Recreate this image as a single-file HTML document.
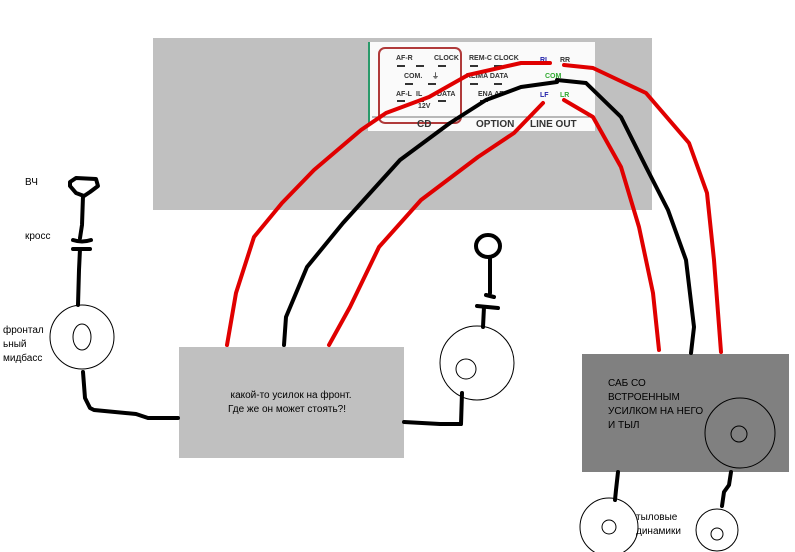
<!DOCTYPE html>
<html><head><meta charset="utf-8"><style>
html,body{margin:0;padding:0;background:#fff;}
svg{display:block;}
text{font-family:"Liberation Sans","DejaVu Sans",sans-serif;}
</style></head><body>
<svg width="795" height="552" viewBox="0 0 795 552" xmlns="http://www.w3.org/2000/svg">
<rect x="0" y="0" width="795" height="552" fill="#fff"/>
<rect x="153" y="38" width="499" height="172" fill="#c0c0c0"/>
<!-- head unit connector image -->
<rect x="368" y="42" width="227" height="89" fill="#fafafa"/>
<line x1="369" y1="42" x2="369" y2="125" stroke="#2a9a6a" stroke-width="2"/>
<rect x="379" y="48" width="82" height="75" rx="6" fill="none" stroke="#b03a3a" stroke-width="2"/>
<line x1="372" y1="117" x2="592" y2="117" stroke="#777" stroke-width="1"/>
<g font-size="7" font-weight="bold" fill="#333">
<text x="396" y="60">AF-R</text><text x="434" y="60">CLOCK</text>
<text x="404" y="78">COM.</text><text x="432" y="78">⏚</text>
<text x="396" y="96">AF-L</text><text x="416" y="96">IL</text><text x="437" y="96">DATA</text>
<text x="418" y="108">12V</text>
<text x="469" y="60">REM-C CLOCK</text>
<text x="466" y="78">KLIMA DATA</text>
<text x="478" y="96">ENA AF</text>
<text x="540" y="62" fill="#22a">RL</text><text x="560" y="62">RR</text>
<text x="545" y="78" fill="#3a3">COM</text>
<text x="540" y="97" fill="#22a">LF</text><text x="560" y="97" fill="#3a3">LR</text>
</g>
<g font-size="10" font-weight="bold" fill="#333">
<text x="417" y="127">CD</text><text x="476" y="127">OPTION</text><text x="530" y="127">LINE OUT</text>
</g>
<g stroke="#333" stroke-width="2">
<line x1="397" y1="66" x2="405" y2="66"/><line x1="416" y1="66" x2="424" y2="66"/><line x1="438" y1="66" x2="446" y2="66"/>
<line x1="405" y1="84" x2="413" y2="84"/><line x1="428" y1="84" x2="436" y2="84"/>
<line x1="397" y1="101" x2="405" y2="101"/><line x1="416" y1="101" x2="424" y2="101"/><line x1="438" y1="101" x2="446" y2="101"/>
<line x1="470" y1="66" x2="478" y2="66"/><line x1="494" y1="66" x2="502" y2="66"/>
<line x1="470" y1="84" x2="478" y2="84"/><line x1="494" y1="84" x2="502" y2="84"/>
<line x1="480" y1="101" x2="488" y2="101"/>
</g>
<!-- boxes -->
<rect x="179" y="347" width="225" height="111" fill="#c0c0c0"/>
<text x="291" y="398" font-size="10" text-anchor="middle" fill="#000">какой-то усилок на фронт.</text>
<text x="287" y="412" font-size="10" text-anchor="middle" fill="#000">Где же он может стоять?!</text>
<rect x="582" y="354" width="207" height="118" fill="#808080"/>
<g font-size="10" fill="#000">
<text x="608" y="386">САБ СО</text>
<text x="608" y="400">ВСТРОЕННЫМ</text>
<text x="608" y="414">УСИЛКОМ НА НЕГО</text>
<text x="608" y="428">И ТЫЛ</text>
</g>
<circle cx="740" cy="433" r="35" fill="none" stroke="#000" stroke-width="1"/>
<circle cx="739" cy="434" r="8" fill="none" stroke="#000" stroke-width="1"/>
<!-- wires -->
<g fill="none" stroke-linecap="round" stroke-linejoin="round" stroke-width="4">
<polyline stroke="#e00000" points="227,345 236,293 254,237 282,203 314,170 361,130 386,113 429,97 468,75 521,63 550,63"/>
<polyline stroke="#000" points="284,345 286,317 307,267 343,223 400,160 450,123 486,100 521,87 557,82"/>
<polyline stroke="#e00000" points="329,345 350,307 379,247 421,200 478,157 514,133 543,103"/>
<polyline stroke="#e00000" points="564,100 593,117 621,167 639,227 653,293 659,350"/>
<polyline stroke="#000" points="557,80 586,83 621,117 646,167 668,210 686,260 694,327 691,353"/>
<polyline stroke="#e00000" points="564,65 593,68 646,93 689,143 707,193 714,260 721,352"/>
<!-- left side -->
<path stroke="#000" d="M70,182 L76,178 L96,179 L98,186 L90,192 L84,196 L76,193 L70,186 Z"/>
<polyline stroke="#000" points="83,196 82,225 80,238"/>
<path stroke="#000" d="M73,240 Q82,243 91,240 M73,249 L90,249 M80,249 L79,270 L78,305"/>
<polyline stroke="#000" points="83,372 85,398 90,408 94,410 136,414 148,418 178,418"/>
<!-- middle -->
<ellipse stroke="#000" cx="488" cy="246" rx="12" ry="11"/>
<path stroke="#000" d="M490,257 L490,293 M486,295 L494,297 M477,306 L498,308 M484,307 L483,327"/>
<polyline stroke="#000" points="462,393 461,424 440,424 404,422"/>
<!-- rear -->
<polyline stroke="#000" points="618,472 616,490 615,500"/>
<polyline stroke="#000" points="731,472 729,485 724,492 722,506"/>
</g>
<circle cx="82" cy="337" r="32" fill="none" stroke="#000" stroke-width="1"/>
<ellipse cx="82" cy="337" rx="9" ry="13" fill="none" stroke="#000" stroke-width="1"/>
<circle cx="477" cy="363" r="37" fill="none" stroke="#000" stroke-width="1"/>
<circle cx="466" cy="369" r="10" fill="none" stroke="#000" stroke-width="1"/>
<circle cx="609" cy="527" r="29" fill="none" stroke="#000" stroke-width="1"/>
<circle cx="609" cy="527" r="7" fill="none" stroke="#000" stroke-width="1"/>
<circle cx="717" cy="530" r="21" fill="none" stroke="#000" stroke-width="1"/>
<circle cx="717" cy="534" r="6" fill="none" stroke="#000" stroke-width="1"/>
<g font-size="10" fill="#000">
<text x="25" y="185">ВЧ</text>
<text x="25" y="239">кросс</text>
<text x="3" y="333">фронтал</text>
<text x="3" y="347">ьный</text>
<text x="3" y="361">мидбасс</text>
<text x="636" y="520">тыловые</text>
<text x="636" y="534">динамики</text>
</g>
</svg>
</body></html>
